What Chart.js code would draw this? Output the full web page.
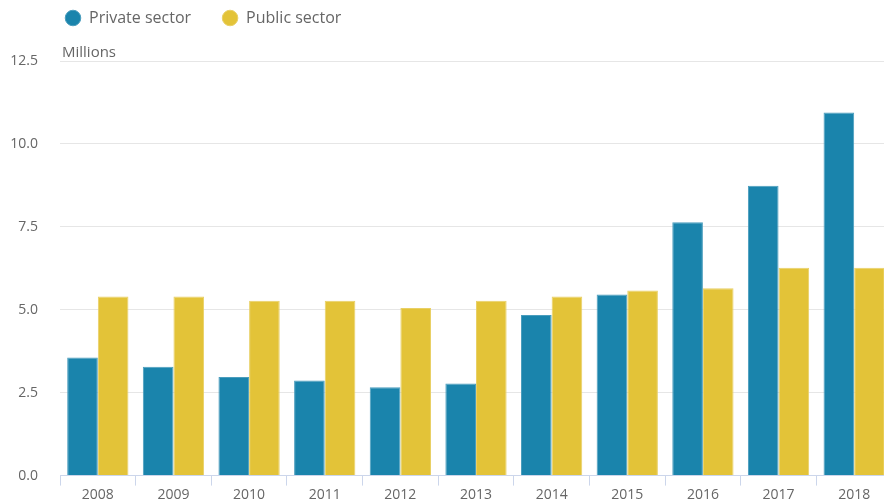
<!DOCTYPE html>
<html>
<head>
<meta charset="utf-8">
<script src="https://cdn.jsdelivr.net/npm/chart.js@4/dist/chart.umd.min.js"></script>
<style>
  html, body { margin: 0; padding: 0; background: #fff; overflow: hidden; }
  #wrap { width: 884px; height: 503px; overflow: hidden; }
  #inner { width: 892px; height: 506px; }
</style>
</head>
<body>
<div id="wrap"><div id="inner"><canvas id="chart" width="892" height="506"></canvas></div></div>
<script>
var years = ['2008', '2009', '2010', '2011', '2012', '2013', '2014', '2015', '2016', '2017', '2018'];
var privateSector = [3.56, 3.28, 2.97, 2.87, 2.66, 2.78, 4.84, 5.46, 7.64, 8.74, 10.95];
var publicSector = [5.40, 5.40, 5.27, 5.27, 5.05, 5.27, 5.40, 5.58, 5.65, 6.27, 6.27];
var yTicks = [0, 2.5, 5, 7.5, 10, 12.5];

// legend placement tweaks + "Millions" label above the plot
var unitLabel = {
    id: 'unitLabel',
    beforeInit: function (chart) {
        var legend = chart.legend;
        var fit = legend.fit;
        legend.fit = function () {
            fit.call(this);
            this.height = 61;
        };
        var draw = legend.draw;
        legend.draw = function () {
            var c = this.ctx;
            c.save();
            c.translate(-26, -21);
            draw.call(this);
            c.restore();
        };
    },
    afterDraw: function (chart) {
        var ctx = chart.ctx;
        ctx.save();
        ctx.font = '15px "Open Sans"';
        ctx.fillStyle = '#666666';
        ctx.textAlign = 'left';
        ctx.textBaseline = 'bottom';
        ctx.fillText('Millions', chart.chartArea.left + 2, chart.chartArea.top - 1);
        ctx.restore();
    }
};

var ctx = document.getElementById('chart').getContext('2d');
var chart = new Chart(ctx, {
    type: 'bar',
    data: {
        labels: years,
        datasets: [
            {
                label: 'Private sector',
                data: privateSector,
                backgroundColor: '#1a84ac',
                borderColor: '#4a9dbd',
                borderWidth: 1,
                categoryPercentage: 0.81,
                barPercentage: 1
            },
            {
                label: 'Public sector',
                data: publicSector,
                backgroundColor: '#e3c338',
                borderColor: '#e9d065',
                borderWidth: 1,
                categoryPercentage: 0.81,
                barPercentage: 1
            }
        ]
    },
    options: {
        responsive: false,
        animation: false,
        layout: { padding: { left: 0, right: 0, top: 0, bottom: 0 } },
        plugins: {
            legend: {
                position: 'top',
                align: 'start',
                fullSize: false,
                labels: {
                    usePointStyle: true,
                    pointStyle: 'circle',
                    boxWidth: 16,
                    boxHeight: 11,
                    padding: 31,
                    color: '#666666',
                    font: { family: '"Open Sans"', size: 16 }
                }
            },
            tooltip: { enabled: false }
        },
        scales: {
            x: {
                grid: {
                    offset: true,
                    drawOnChartArea: false,
                    drawTicks: true,
                    tickLength: 10,
                    color: '#ccd6eb'
                },
                border: { color: '#ccd6eb' },
                ticks: {
                    color: '#666666',
                    padding: 1,
                    font: { family: '"Open Sans"', size: 14 },
                    maxRotation: 0
                }
            },
            y: {
                min: 0,
                max: 12.5,
                afterBuildTicks: function (axis) {
                    axis.ticks = yTicks.map(function (v) { return { value: v }; });
                },
                grid: { color: '#e6e6e6', drawTicks: false },
                border: { display: false },
                afterFit: function (axis) { axis.width = 60; },
                ticks: {
                    color: '#666666',
                    padding: 22,
                    font: { family: '"Open Sans"', size: 14 },
                    callback: function (v) { return Number(v).toFixed(1); }
                }
            }
        }
    },
    plugins: [unitLabel]
});
</script>
</body>
</html>
